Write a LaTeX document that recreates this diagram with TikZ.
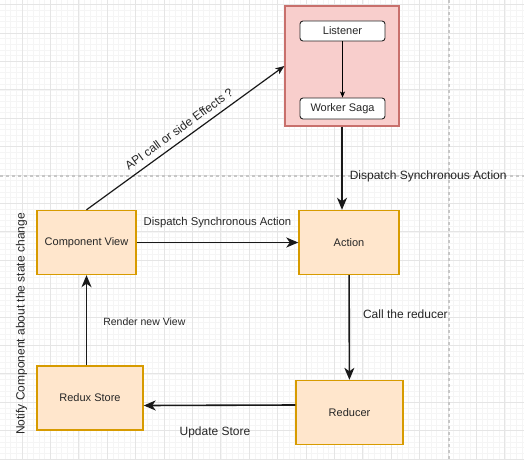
\documentclass[tikz,border=0pt]{standalone}
\usepackage{fontspec}
\setmainfont{Liberation Sans}
\usetikzlibrary{arrows.meta}

\definecolor{stepfill}{HTML}{FFE6CC}
\definecolor{stepline}{HTML}{D79B00}
\definecolor{sagafill}{HTML}{F8CECC}
\definecolor{sagaline}{HTML}{C8706C}

\tikzset{
  minorline/.style={black!4, line width=0.6pt},
  majorline/.style={black!10, line width=0.8pt},
  pageline/.style={black!22, line width=1.2pt, dash pattern=on 3pt off 3pt},
  stepbox/.style={draw=stepline, fill=stepfill, line width=1.4pt, inner sep=0pt,
    minimum width=#1, minimum height=64pt},
  stepbox/.default=100pt,
  sagabox/.style={draw=black!85, fill=white, rounded corners=3pt, line width=0.9pt,
    inner sep=0pt, minimum width=85pt, minimum height=20pt},
  flow/.style={->, line width=1.6pt, black!90},
  lbl/.style={font=\fontsize{12}{14}\selectfont, text=black!85, inner sep=1pt}
}

\begin{document}
\begin{tikzpicture}[x=1pt, y=-1pt, >={Stealth[length=12pt, width=10pt, inset=3.5pt]},
  font=\fontsize{11}{13}\selectfont, text=black!85]
  \useasboundingbox (0,0) rectangle (524,460);

  % 方眼
  \foreach \i in {-3,...,88}
    \draw[minorline] (22+\i*5.68,0) -- (22+\i*5.68,460);
  \foreach \i in {-5,...,75}
    \draw[minorline] (0,33+\i*5.68) -- (524,33+\i*5.68);
  \foreach \i in {0,...,17}
    \draw[majorline] (22+\i*28.4,0) -- (22+\i*28.4,460);
  \foreach \i in {-1,...,15}
    \draw[majorline] (0,33+\i*28.4) -- (524,33+\i*28.4);

  % ページ境界
  \draw[pageline] (0,176) -- (524,176);
  \draw[pageline] (449,0) -- (449,460);

  % saga
  \node[draw=sagaline, fill=sagafill, line width=1.2pt, inner sep=0pt,
    minimum width=114pt, minimum height=120pt] (group) at (342,66) {};
  \node[sagabox] (listener) at (342.5,31) {Listener};
  \node[sagabox, minimum height=21pt] (saga) at (342.5,108.5) {Worker Saga};
  \draw[->, >={Stealth[length=6pt, width=5pt, inset=1.5pt]}, line width=0.8pt]
    (listener) -- (saga);

  % 四つの箱
  \node[stepbox=99pt] (view) at (86.5,242.5) {Component View};
  \node[stepbox] (action) at (349,242.5) {Action};
  \node[stepbox=107pt] (reducer) at (349.5,412.5) {Reducer};
  \node[stepbox=106pt] (store) at (90,398) {Redux Store};

  % 矢印とラベル
  \draw[flow] (group.south) -- (group.south |- action.north)
    node[lbl, pos=0.6, right=6pt] {Dispatch Synchronous Action};
  \draw[flow] (view) -- (action)
    node[lbl, font=\fontsize{11.3}{13}\selectfont, midway, above=13pt] {Dispatch Synchronous Action};
  \draw[flow] (action) -- (reducer)
    node[lbl, pos=0.37, right=12pt] {Call the reducer};
  \draw[flow] ([yshift=7.5pt]reducer.west) -- ([yshift=-7.5pt]store.east)
    node[lbl, pos=0.53, below=20pt] {Update Store};
  \draw[flow] (store.north -| view.south) -- (view.south)
    node[lbl, font=\fontsize{10.5}{12}\selectfont, pos=0.48, right=15pt] {Render new View};
  \draw[->, >={Stealth[length=9pt, width=7pt, inset=2.5pt]}, line width=1.2pt, black!90]
    (view.north) -- (group.west)
    node[lbl, midway, sloped, above=5pt] {API call or side Effects ?};

  % 縦書きラベル
  \node[lbl, rotate=90] (notify) at (21.5,324) {Notify Component about the state change};
\end{tikzpicture}
\end{document}
